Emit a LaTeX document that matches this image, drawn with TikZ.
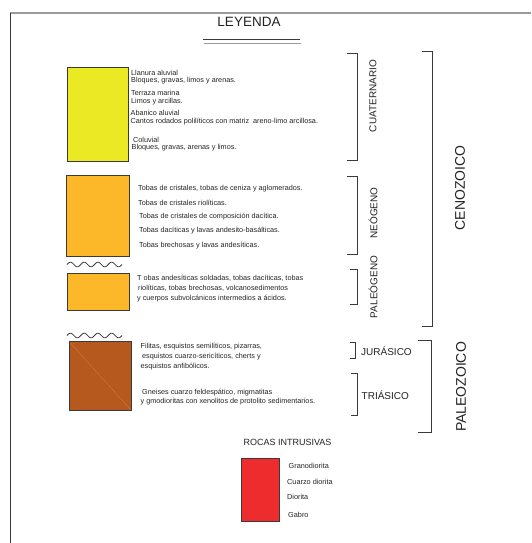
\documentclass[tikz,border=0pt]{standalone}
\usepackage{fontspec}
\setmainfont{Liberation Sans}
\definecolor{yel}{HTML}{EBE824}
\definecolor{ora}{HTML}{FCB829}
\definecolor{bro}{HTML}{B5591F}
\definecolor{brolight}{HTML}{CF7A35}
\definecolor{redb}{HTML}{EE2B2D}
\definecolor{edge}{HTML}{3A3A3A}
\definecolor{txtc}{HTML}{222222}
\definecolor{framegray}{HTML}{9A9A9A}
\begin{document}
\begin{tikzpicture}[x=1pt,y=-1pt,
  unitbox/.style={draw=edge, line width=0.8pt},
  txt/.style={anchor=west, inner sep=0pt, text=txtc, font=\fontsize{7.25}{8.5}\selectfont},
  rtxt/.style={anchor=west, inner sep=0pt, text=txtc, font=\fontsize{7.3}{9}\selectfont},
  brk/.style={draw=edge, line width=0.9pt},
  era/.style={rotate=90, inner sep=0pt, text=txtc, font=\fontsize{14}{16}\selectfont},
  period/.style={rotate=90, inner sep=0pt, text=txtc, font=\fontsize{10}{12}\selectfont},
  hperiod/.style={anchor=west, inner sep=0pt, text=txtc, font=\fontsize{10}{12}\selectfont},
  wave/.style={draw=edge, line width=0.8pt}]
\useasboundingbox (0,0) rectangle (531,543);
% frame
\draw[framegray, line width=1.4pt] (10,13) -- (531,13);
\draw[edge, line width=1pt] (10.5,13) -- (10.5,543);
% title
\node[inner sep=0pt, text=txtc, font=\fontsize{13.5}{15}\selectfont] (title) at (249,21.5) {LEYENDA};
\draw[edge, line width=0.9pt] (203,39.5) -- (300,39.5);
\draw[framegray, line width=1.1pt] (204,43.5) -- (300.5,43.5);

% Cuaternario
\fill[yel] (67,67) rectangle (128.5,161);
\draw[unitbox] (67,67) rectangle (128.5,161);
\node[txt] (q1a) at (131,72.5) {Llanura aluvial};
\node[txt] (q1b) at (131,80.8) {Bloques, gravas, limos y arenas.};
\node[txt] (q2a) at (131,93) {Terraza marina};
\node[txt] (q2b) at (131,101.3) {Limos y arcillas.};
\node[txt] (q3a) at (130.5,113.2) {Abanico aluvial};
\node[txt] (q3b) at (130.5,121.7) {Cantos rodados polilíticos con matriz\ \ areno-limo arcillosa.};
\node[txt] (q4a) at (133,139.5) {Coluvial};
\node[txt] (q4b) at (131.5,148) {Bloques, gravas, arenas y limos.};
\draw[brk] (347,53) -- (357,53) -- (357,160) -- (347,160);
\node[period] (cuat) at (373,96) {CUATERNARIO};

% Neogeno
\fill[ora] (66.5,175.5) rectangle (129,256.5);
\draw[unitbox] (66.5,175.5) rectangle (129,256.5);
\node[txt] (n1) at (138,188.5) {Tobas de cristales, tobas de ceniza y aglomerados.};
\node[txt] (n2) at (138,202.5) {Tobas de cristales riolíticas.};
\node[txt] (n3) at (139,216.8) {Tobas de cristales de composición dacítica.};
\node[txt] (n4) at (139,230.8) {Tobas dacíticas y lavas andesito-basálticas.};
\node[txt] (n5) at (139,245.5) {Tobas brechosas y lavas andesíticas.};
\draw[brk] (347,176.5) -- (357,176.5) -- (357,254) -- (347,254);
\node[period] (neo) at (373,213) {NEÓGENO};

% unconformity 1
\draw[wave] plot[domain=0:1440, samples=120] ({67+\x/1440*55},{264.5-2.3*sin(\x)});

% Paleogeno
\fill[ora] (67.5,273) rectangle (129.5,310.5);
\draw[unitbox] (67.5,273) rectangle (129.5,310.5);
\node[txt] (p1) at (137,278.3) {T obas andesíticas soldadas, tobas dacíticas, tobas};
\node[txt] (p2) at (138,288.3) {riolíticas, tobas brechosas, volcanosedimentos};
\node[txt] (p3) at (137,298.3) {y cuerpos subvolcánicos intermedios a ácidos.};
\draw[brk] (350,269) -- (357,269) -- (357,304) -- (350,304);
\node[period] (pal) at (373,287) {PALEÓGENO};

% Cenozoico
\draw[brk] (422,51) -- (432,51) -- (432,326) -- (422,326);
\node[era] (ceno) at (460,188) {CENOZOICO};

% unconformity 2
\draw[wave] plot[domain=0:1440, samples=120] ({67+\x/1440*55},{335.5-2.3*sin(\x)});

% Jurasico / Triasico
\fill[bro] (69,341.5) rectangle (131.5,410.5);
\draw[brolight, line width=0.4pt] (69.5,342) -- (131,410);
\draw[unitbox] (69,341.5) rectangle (131.5,410.5);
\node[txt] (j1) at (140.5,347) {Filitas, esquistos semilíticos, pizarras,};
\node[txt] (j2) at (142,357) {esquistos cuarzo-sericíticos, cherts y};
\node[txt] (j3) at (140.5,367) {esquistos anfibólicos.};
\node[txt] (t1) at (142,392.5) {Gneises cuarzo feldespático, migmatitas};
\node[txt] (t2) at (140.5,401.5) {y gmodioritas con xenolitos de protolito sedimentarios.};
\draw[brk] (350,342) -- (355.5,342) -- (355.5,358) -- (350,358);
\node[hperiod] (jur) at (361,351) {JURÁSICO};
\draw[brk] (351,373) -- (357.5,373) -- (357.5,415) -- (351,415);
\node[hperiod] (tri) at (361.5,395) {TRIÁSICO};

% Paleozoico
\draw[brk] (418,340) -- (431.5,340) -- (431.5,432) -- (418,432);
\node[era] (paleo) at (461,387) {PALEOZOICO};

% Rocas intrusivas
\node[inner sep=0pt, text=txtc, font=\fontsize{9}{11}\selectfont] (intr) at (287.5,442) {ROCAS INTRUSIVAS};
\fill[redb] (241.5,458.5) rectangle (279.5,521.5);
\draw[unitbox] (241.5,458.5) rectangle (279.5,521.5);
\node[rtxt] (i1) at (288.5,465.5) {Granodiorita};
\node[rtxt] (i2) at (287,481.5) {Cuarzo diorita};
\node[rtxt] (i3) at (287,497) {Diorita};
\node[rtxt] (i4) at (288,514.5) {Gabro};
\end{tikzpicture}
\end{document}
